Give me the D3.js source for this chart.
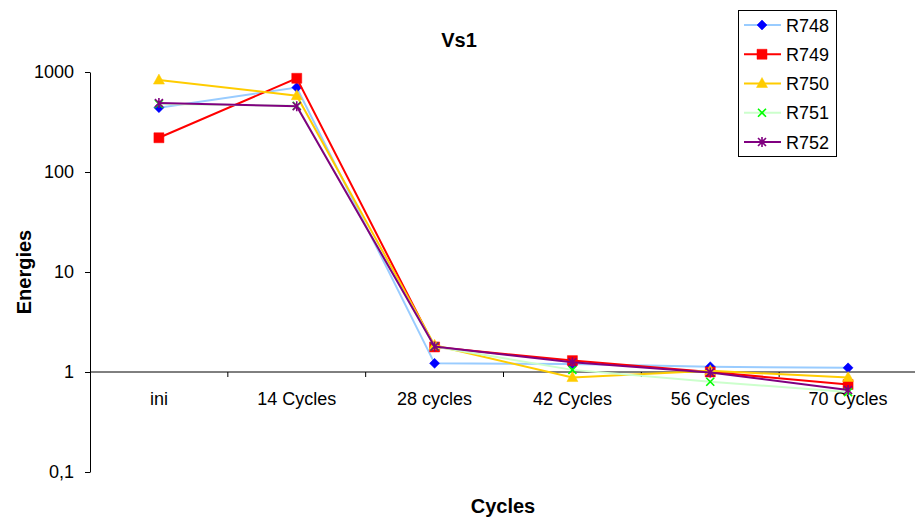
<!DOCTYPE html>
<html>
<head>
<meta charset="utf-8">
<script src="https://cdn.jsdelivr.net/npm/d3@7"></script>
<style>
html,body{margin:0;padding:0;background:#fff;}
svg{display:block;font-family:"Liberation Sans",Arial,sans-serif;}
</style>
</head>
<body>
<svg id="chart" width="915" height="520"></svg>
<script>
const categories = ["ini", "14 Cycles", "28 cycles", "42 Cycles", "56 Cycles", "70 Cycles"];
const seriesNames = ["R748", "R749", "R750", "R751", "R752"];
const R748 = [440, 700, 1.22, 1.2, 1.13, 1.1];
const R749 = [220, 865, 1.78, 1.3, 1.0, 0.75];
const R750 = [830, 580, 1.85, 0.88, 1.03, 0.88];
const R751 = [480, 460, 1.8, 1.05, 0.8, 0.63];
const R752 = [490, 455, 1.8, 1.25, 0.99, 0.66];
const yTicks = [0.1, 1, 10, 100, 1000];
const yTickLabels = ["0,1", "1", "10", "100", "1000"];

const seriesValues = [R748, R749, R750, R751, R752];
const lineColors = ["#99CCFF", "#FF0000", "#FFCC00", "#CCFFCC", "#800080"];
const markerColors = ["#0000FF", "#FF0000", "#FFCC00", "#00FF00", "#800080"];
const markerTypes = ["diamond", "square", "triangle", "x", "star"];

const svg = d3.select("#chart");
const plotLeft = 90, plotRight = 917, plotTop = 72, plotBottom = 472;

const x = d3.scaleBand().domain(categories).range([plotLeft, plotRight]).padding(0);
const y = d3.scaleLog().domain([0.1, 1000]).range([plotBottom, plotTop]);
const cx = c => x(c) + x.bandwidth() / 2;

// Title
svg.append("text").attr("x", 459).attr("y", 47).attr("text-anchor", "middle")
  .attr("font-size", 20).attr("font-weight", "bold").text("Vs1");
// Axis titles
svg.append("text").attr("x", 503).attr("y", 513).attr("text-anchor", "middle")
  .attr("font-size", 20).attr("font-weight", "bold").text("Cycles");
svg.append("text").attr("transform", "translate(31,272) rotate(-90)").attr("text-anchor", "middle")
  .attr("font-size", 20).attr("font-weight", "bold").text("Energies");

// Y axis
const yAxis = d3.axisLeft(y).tickValues(yTicks)
  .tickFormat((d, i) => yTickLabels[i]).tickSize(5).tickSizeOuter(0).tickPadding(11);
const gy = svg.append("g").attr("transform", `translate(${plotLeft},0)`).call(yAxis);
gy.selectAll("text").attr("font-size", 18).attr("fill", "#000").attr("font-family", "Liberation Sans, Arial, sans-serif");
gy.selectAll("line,path").attr("stroke", "#000");

// X axis crossing at 1
const y1 = y(1);
const gx = svg.append("g").attr("transform", `translate(0,${y1})`);
gx.append("line").attr("x1", plotLeft).attr("x2", plotRight).attr("y1", 0).attr("y2", 0).attr("stroke", "#000");
gx.selectAll("line.tk").data(categories.slice(1)).enter().append("line").attr("class", "tk")
  .attr("x1", d => x(d)).attr("x2", d => x(d)).attr("y1", 0).attr("y2", 5).attr("stroke", "#000");
gx.selectAll("text").data(categories).enter().append("text")
  .attr("x", d => cx(d)).attr("y", 33).attr("text-anchor", "middle")
  .attr("font-size", 18).text(d => d);

// Markers
function markerPath(type) {
  switch (type) {
    case "diamond": return "M0,-5L5,0L0,5L-5,0Z";
    case "square": return "M-5,-5H5V5H-5Z";
    case "triangle": return "M0,-6L5.5,4L-5.5,4Z";
    case "x": return "M-4,-4L4,4M-4,4L4,-4";
    case "star": return "M-4,-4L4,4M-4,4L4,-4M0,-5V5";
  }
}
function drawMarker(g, type, color) {
  const filled = type === "diamond" || type === "square" || type === "triangle";
  g.append("path").attr("d", markerPath(type))
    .attr("fill", filled ? color : "none")
    .attr("stroke", color).attr("stroke-width", filled ? 0.5 : 1.6);
}

const line = d3.line().x((d, i) => cx(categories[i])).y(d => y(d));
seriesValues.forEach((vals, s) => {
  const g = svg.append("g");
  g.append("path").datum(vals).attr("d", line).attr("fill", "none")
    .attr("stroke", lineColors[s]).attr("stroke-width", 2);
  vals.forEach((v, i) => {
    const m = g.append("g").attr("transform", `translate(${cx(categories[i])},${y(v)})`);
    drawMarker(m, markerTypes[s], markerColors[s]);
  });
});

// Legend
const lg = svg.append("g");
lg.append("rect").attr("x", 738.5).attr("y", 10.5).attr("width", 98).attr("height", 146)
  .attr("fill", "#fff").attr("stroke", "#000").attr("stroke-width", 1);
const legendY = d3.scalePoint().domain(seriesNames).range([25, 142]);
seriesNames.forEach((n, s) => {
  const yy = legendY(n);
  lg.append("line").attr("x1", 744).attr("x2", 781).attr("y1", yy).attr("y2", yy)
    .attr("stroke", lineColors[s]).attr("stroke-width", 2);
  const m = lg.append("g").attr("transform", `translate(762,${yy})`);
  drawMarker(m, markerTypes[s], markerColors[s]);
  lg.append("text").attr("x", 786).attr("y", yy + 6.5).attr("font-size", 18).text(n);
});
</script>
</body>
</html>
